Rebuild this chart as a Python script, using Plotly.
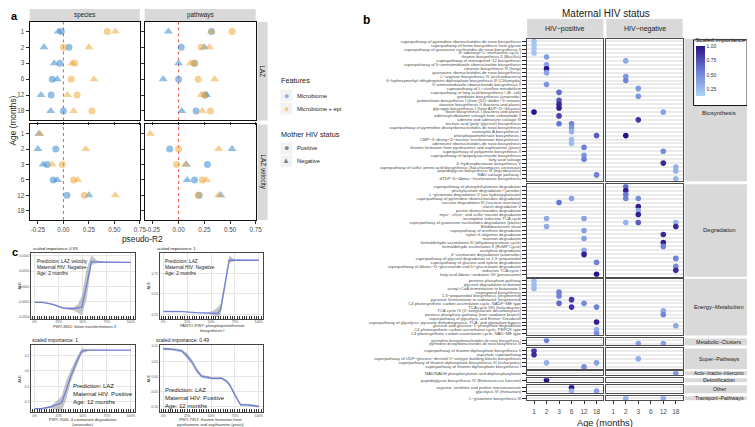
import plotly.graph_objects as go

W, H = 755, 427
def fx(p): return p / W
def fy(p): return 1 - p / H

AGES = ['1', '2', '3', '6', '12', '18']

# ---------------- panel a : pseudo-R2 per age (None = no point) ----------------
species_laz_micro_pos = [-0.02, 0.055, -0.035, -0.11, -0.12, 0.0]
species_laz_micro_neg = [-0.05, -0.19, -0.09, -0.06, -0.22, -0.125]
species_laz_epi_pos = [0.43, 0.0, 0.11, 0.077, 0.135, 0.28]
species_laz_epi_neg = [0.51, 0.25, 0.085, 0.30, 0.04, 0.10]
pathways_laz_micro_pos = [0.32, 0.025, 0.155, 0.0, 0.26, 0.17]
pathways_laz_micro_neg = [-0.10, 0.25, 0.0, -0.15, 0.27, 0.03]
pathways_laz_epi_pos = [0.52, 0.22, 0.15, 0.19, 0.25, 0.31]
pathways_laz_epi_neg = [0.32, 0.30, 0.115, 0.35, 0.22, 0.23]
species_vel_micro_pos = [None, -0.075, -0.16, -0.10, 0.035, None]
species_vel_micro_neg = [-0.24, -0.25, -0.20, -0.06, 0.25, None]
species_vel_epi_pos = [None, None, -0.01, 0.10, 0.205, None]
species_vel_epi_neg = [-0.23, 0.22, -0.11, 0.14, 0.51, None]
pathways_vel_micro_pos = [None, -0.087, 0.28, 0.155, 0.20, None]
pathways_vel_micro_neg = [None, 0.52, 0.075, 0.084, 0.41, None]
pathways_vel_epi_pos = [None, 0.0, -0.02, 0.23, 0.19, None]
pathways_vel_epi_neg = [-0.275, 0.39, 0.067, 0.27, 0.39, None]
R2_TICKS = [-0.25, 0.0, 0.25, 0.50, 0.75]
R2_TICKTEXT = ['-0.25', '0.00', '0.25', '0.50', '0.75']

# ---------------- panel c : ALE curves (x in quantile %) ----------------
c1_x = [0, 8, 18, 30, 40, 45, 49, 54, 59, 65, 75, 85, 100]
c1_ale = [-0.0052, -0.0052, -0.0058, -0.0071, -0.0073, -0.0071, -0.0068, 0.0005, 0.0082, 0.0080, 0.0079, 0.0079, 0.0079]
c1_lo = [-0.0054, -0.0054, -0.0060, -0.0074, -0.0078, -0.0086, -0.0096, -0.0040, 0.0070, 0.0077, 0.0078, 0.0078, 0.0078]
c1_hi = [-0.0050, -0.0050, -0.0056, -0.0068, -0.0068, -0.0058, -0.0030, 0.0060, 0.0102, 0.0084, 0.0080, 0.0080, 0.0080]
c2_x = [0, 10, 20, 34, 46, 52, 57, 60, 66, 69, 75, 85, 100]
c2_ale = [0.286, 0.286, 0.285, 0.272, 0.266, 0.264, 0.262, 0.31, 0.71, 0.91, 0.91, 0.91, 0.91]
c2_lo = [0.283, 0.283, 0.282, 0.269, 0.262, 0.240, 0.215, 0.25, 0.66, 0.875, 0.90, 0.905, 0.905]
c2_hi = [0.289, 0.289, 0.288, 0.275, 0.270, 0.295, 0.335, 0.38, 0.76, 0.965, 0.92, 0.915, 0.915]
c3_x = [0, 7, 16, 22, 28, 33, 37, 43, 49, 56, 70, 85, 100]
c3_ale = [-0.243, -0.243, -0.233, -0.222, -0.206, -0.12, -0.043, 0.05, 0.129, 0.135, 0.135, 0.134, 0.134]
c3_lo = [-0.247, -0.247, -0.240, -0.250, -0.262, -0.18, -0.08, 0.02, 0.112, 0.131, 0.132, 0.132, 0.132]
c3_hi = [-0.239, -0.239, -0.226, -0.200, -0.160, -0.06, 0.00, 0.08, 0.146, 0.139, 0.138, 0.136, 0.136]
c4_x = [0, 10, 19, 25, 30, 35, 40, 51, 61, 66, 70, 75, 81, 88, 100]
c4_ale = [0.092, 0.090, 0.085, 0.068, 0.048, 0.020, 0.001, -0.006, -0.006, -0.015, -0.030, -0.062, -0.094, -0.094, -0.099]
c4_lo = [0.088, 0.086, 0.080, 0.060, 0.040, 0.012, -0.004, -0.010, -0.010, -0.020, -0.036, -0.068, -0.098, -0.098, -0.103]
c4_hi = [0.096, 0.094, 0.090, 0.076, 0.056, 0.028, 0.006, -0.002, -0.002, -0.010, -0.024, -0.056, -0.090, -0.090, -0.095]

# ---------------- panel b : pathway labels and (row, age, importance) dots ----------------
bio_labels = [
    "superpathway of pyrimidine ribonucleotides de novo biosynthesis",
    "superpathway of heme biosynthesis from glycine",
    "superpathway of guanosine nucleotides de novo biosynthesis II",
    "S−adenosyl−L−methionine cycle I",
    "thiamin biosynthesis II (Bacillus)",
    "superpathway of menaquinol−12 biosynthesis",
    "superpathway of 5−aminoimidazole ribonucleotide biosynthesis",
    "stearate biosynthesis III (fungi)",
    "guanosine ribonucleotides de novo biosynthesis",
    "L−arginine biosynthesis IV (archaebacteria)",
    "6−hydroxymethyl−dihydropterin diphosphate biosynthesis III (Chlamydia)",
    "5−aminoimidazole ribonucleotide biosynthesis II",
    "superpathway of L−citrulline metabolism",
    "superpathway of fatty acid biosynthesis I (E. coli)",
    "gondoate biosynthesis (anaerobic)",
    "palmitoleate biosynthesis I (from (5Z)−dodec−5−enoate)",
    "stearate biosynthesis II (bacteria and plants)",
    "glycogen biosynthesis I (from ADP−D−Glucose)",
    "flavin biosynthesis I (bacteria and plants)",
    "adenosylcobalamin salvage from cobinamide II",
    "adenine and adenosine salvage III",
    "teichoic acid (poly−glycerol) biosynthesis",
    "superpathway of pyrimidine deoxyribonucleotides de novo biosynthesis",
    "coenzyme A biosynthesis I",
    "phosphopantothenate biosynthesis I",
    "CMP−3−deoxy−D−manno−octulosonate biosynthesis I",
    "adenosine ribonucleotides de novo biosynthesis",
    "thiamin formation from pyrithiamine and oxythiamine (yeast)",
    "superpathway of polyamine biosynthesis II",
    "superpathway of lipopolysaccharide biosynthesis",
    "fatty acid salvage",
    "4−hydroxybenzoate biosynthesis V",
    "superpathway of sulfur amino acid biosynthesis (Saccharomyces cerevisiae)",
    "peptidoglycan biosynthesis III (mycobacteria)",
    "NAD salvage pathway I",
    "dTDP−D−&amp;beta;−fucofuranose biosynthesis",
]
deg_labels = [
    "superpathway of phenylethylamine degradation",
    "phenylacetate degradation I (aerobic)",
    "L−glutamate degradation V (via hydroxyglutarate)",
    "superpathway of pyrimidine ribonucleosides degradation",
    "sucrose degradation III (sucrose invertase)",
    "starch degradation V",
    "purine ribonucleosides degradation",
    "myo−, chiro− and scillo−inositol degradation",
    "incomplete reductive TCA cycle",
    "superpathway of guanosine nucleotides degradation (plants)",
    "Bifidobacterium shunt",
    "superpathway of ornithine degradation",
    "nylon−6 oligomer degradation",
    "mannan degradation",
    "formaldehyde assimilation III (dihydroxyacetone cycle)",
    "formaldehyde assimilation II (RuMP Cycle)",
    "acetylene degradation",
    "4−coumarate degradation (anaerobic)",
    "superpathway of glycerol degradation to 1,3−propanediol",
    "superpathway of glucose and xylose degradation",
    "superpathway of &amp;beta;−D−glucuronide and D−glucuronate degradation",
    "reductive TCA cycle I",
    "fatty acid &amp;beta;−oxidation VII (peroxisome)",
]
energy_labels = [
    "pentose phosphate pathway",
    "glycerol degradation to butanol",
    "acetyl−CoA fermentation to butanoate II",
    "isopropanol biosynthesis",
    "1,3−propanediol biosynthesis (engineered)",
    "pyruvate fermentation to isobutanol (engineered)",
    "C4 photosynthetic carbon assimilation cycle, NADP−ME type",
    "TCA cycle VIII (helicobacter)",
    "TCA cycle IV (2−oxoglutarate decarboxylase)",
    "pentose phosphate pathway (non−oxidative branch)",
    "superpathway of glycolysis and Entner−Doudoroff",
    "superpathway of glycolysis, pyruvate dehydrogenase, TCA, and glyoxylate bypass",
    "glucose and glucose−1−phosphate degradation",
    "C4 photosynthetic carbon assimilation cycle, PEPCK type",
    "C4 photosynthetic carbon assimilation cycle, NAD−ME type",
]
metab_labels = ["pyrimidine deoxyribonucleotides de novo biosynthesis I",
                "pyrimidine deoxyribonucleotides de novo biosynthesis III"]
super_labels = ["superpathway of thiamin diphosphate biosynthesis II",
                "aspartate superpathway",
                "superpathway of UDP−glucose−derived O−antigen building blocks biosynthesis",
                "superpathway of thiamin diphosphate biosynthesis III (eukaryotes)",
                "superpathway of thiamin diphosphate biosynthesis I"]
activ_labels = ["NAD/NADH phosphorylation and dephosphorylation"]
detox_labels = ["peptidoglycan biosynthesis IV (Enterococcus faecium)"]
other_labels = ["arginine, ornithine and proline interconversion", "glycolysis VI (metazoan)"]
transport_labels = ["L−glutamine biosynthesis III"]

bio_pos = [(1, '1', 0.22), (2, '1', 0.2), (3, '1', 0.2), (4, '1', 0.22), (5, '2', 0.42), (7, '2', 0.4),
           (8, '2', 1.0), (9, '2', 0.38), (12, '2', 0.45), (14, '3', 0.65), (16, '3', 0.72), (17, '3', 0.9),
           (18, '3', 0.95), (20, '3', 0.8), (22, '3', 0.6), (19, '1', 1.0), (22, '6', 0.55), (23, '6', 0.45),
           (24, '6', 0.3), (26, '6', 0.25), (27, '6', 0.25), (28, '12', 0.55), (30, '12', 0.45),
           (31, '12', 0.55), (25, '18', 0.7), (35, '18', 0.55)]
bio_neg = [(6, '2', 0.35), (10, '2', 0.45), (11, '2', 0.55), (13, '3', 0.42), (15, '3', 0.45), (21, '3', 0.85),
           (25, '2', 1.0), (19, '12', 0.4), (29, '12', 0.5), (32, '12', 0.9), (33, '18', 0.3), (34, '18', 0.3),
           (36, '18', 0.28)]
deg_pos = [(4, '6', 0.4), (5, '3', 0.6), (9, '2', 0.35), (9, '12', 0.4), (11, '2', 0.35), (12, '12', 0.4),
           (14, '12', 0.4), (17, '12', 0.35), (18, '12', 0.95), (20, '18', 0.55), (23, '18', 1.0)]
deg_neg = [(1, '2', 0.65), (2, '2', 0.95), (3, '2', 0.6), (4, '2', 0.55), (4, '3', 0.5), (6, '3', 0.95),
           (7, '3', 0.35), (8, '3', 0.95), (10, '2', 0.3), (10, '3', 0.7), (10, '18', 0.3), (11, '18', 0.9),
           (13, '12', 0.9), (15, '12', 0.95), (16, '12', 0.55), (19, '18', 0.55), (21, '18', 0.5), (22, '18', 0.9)]
energy_pos = [(1, '1', 0.25), (2, '1', 0.25), (3, '1', 0.25), (4, '3', 0.55), (5, '3', 0.55), (7, '3', 0.65),
              (6, '6', 0.85), (8, '6', 0.85), (7, '12', 0.5), (8, '18', 0.55), (12, '18', 0.95), (14, '18', 0.3),
              (15, '18', 0.5)]
energy_neg = [(9, '12', 0.35), (10, '12', 0.55), (13, '18', 0.35)]
metab_pos = [(1, '2', 0.55)]
metab_neg = [(2, '3', 0.4), (2, '12', 0.4)]
super_pos = [(1, '1', 0.85), (2, '1', 0.9), (4, '2', 0.32), (4, '18', 0.4), (5, '12', 0.5)]
super_neg = [(3, '3', 0.32)]
activ_pos = []
activ_neg = [(1, '18', 0.45)]
detox_pos = [(1, '2', 1.0)]
detox_neg = []
other_pos = [(1, '6', 1.0), (2, '6', 0.3), (2, '18', 0.4)]
other_neg = []
transport_pos = []
transport_neg = [(1, '2', 0.3), (1, '12', 0.32)]

# ======================================================================
fig = go.Figure()
layout = {}
shapes = []
annotations = []
count = [0]

def new_axes(xpx, ypx, xkw, ykw):
    count[0] += 1
    n = count[0]
    s = '' if n == 1 else str(n)
    xa = dict(domain=[fx(xpx[0]), fx(xpx[1])], anchor='y' + s)
    ya = dict(domain=[fy(ypx[1]), fy(ypx[0])], anchor='x' + s)
    xa.update(xkw)
    ya.update(ykw)
    layout['xaxis' + s] = xa
    layout['yaxis' + s] = ya
    return 'x' + s, 'y' + s

def text(x, y, t, size, color='#1a1a1a', xanchor='center', yanchor='middle', angle=0, bold=False, align='center'):
    if bold:
        t = '<b>' + t + '</b>'
    annotations.append(dict(x=fx(x), y=fy(y), xref='paper', yref='paper', text=t, showarrow=False,
                            xanchor=xanchor, yanchor=yanchor, textangle=angle, align=align, borderpad=0,
                            font=dict(size=size, color=color, family='Liberation Sans, Arial')))

def rect(x0, y0, x1, y1, fill, line=None, lw=0):
    shapes.append(dict(type='rect', xref='paper', yref='paper', x0=fx(x0), x1=fx(x1), y0=fy(y1), y1=fy(y0),
                       fillcolor=fill, line=dict(width=lw, color=line or fill), layer='above'))

STRIP = '#d9d9d9'
BLUE = '#3d8bd0'
ORANGE = '#f1aa3a'

# ---------------------------- panel a ---------------------------------
panels_a = [
    ((22, 133), (13, 112), species_laz_micro_pos, species_laz_micro_neg, species_laz_epi_pos, species_laz_epi_neg, True, False),
    ((138, 250), (13, 112), pathways_laz_micro_pos, pathways_laz_micro_neg, pathways_laz_epi_pos, pathways_laz_epi_neg, False, False),
    ((22, 133), (116, 212), species_vel_micro_pos, species_vel_micro_neg, species_vel_epi_pos, species_vel_epi_neg, True, True),
    ((138, 250), (116, 212), pathways_vel_micro_pos, pathways_vel_micro_neg, pathways_vel_epi_pos, pathways_vel_epi_neg, False, True),
]
for xpx, ypx, mp, mn, ep, en, left, bottom in panels_a:
    xr, yr = new_axes(xpx, ypx,
        dict(range=[-0.33, 0.75], tickvals=R2_TICKS, ticktext=R2_TICKTEXT, showticklabels=bottom,
             ticks='outside', ticklen=3, tickcolor='#333', tickfont=dict(size=6.3, color='#4d4d4d'),
             showgrid=False, zeroline=False, showline=True, mirror=True, linecolor='#111', linewidth=1.4),
        dict(type='category', categoryarray=AGES, categoryorder='array', range=[5.6, -0.6],
             showticklabels=left, ticks='outside', ticklen=3, tickcolor='#333',
             tickfont=dict(size=6.3, color='#4d4d4d'), showgrid=False, zeroline=False,
             showline=True, mirror=True, linecolor='#111', linewidth=1.4))
    shapes.append(dict(type='line', xref=xr, yref=yr + ' domain', x0=0, x1=0, y0=0, y1=1,
                       line=dict(color='#f0554a', width=1, dash='dot'), layer='below'))
    for vals, col, sym, sz in [(mp, BLUE, 'circle', 7), (mn, BLUE, 'triangle-up', 8),
                               (ep, ORANGE, 'circle', 7), (en, ORANGE, 'triangle-up', 8)]:
        xs = [v for v in vals if v is not None]
        ys = [a for a, v in zip(AGES, vals) if v is not None]
        fig.add_trace(go.Scatter(x=xs, y=ys, xaxis=xr, yaxis=yr, mode='markers', showlegend=False,
                                 marker=dict(color=col, symbol=sym, size=sz, opacity=0.55, line=dict(width=0))))

rect(22, 0, 133, 12, STRIP); rect(138, 0, 250, 12, STRIP)
rect(252, 13, 262, 112, STRIP); rect(252, 116, 262, 212, STRIP)
text(77.5, 6.5, 'species', 6.3); text(194, 6.5, 'pathways', 6.3)
text(257, 62.5, 'LAZ', 6.3, angle=90); text(257, 164, 'LAZ velocity', 6.3, angle=90)
text(136, 231, 'pseudo-R2', 8.3)
text(6, 112, 'Age (months)', 8.3, angle=-90)
text(2, 7, 'a', 11, color='black', xanchor='left', bold=True)

# legend (panel a), drawn as text keys
text(275, 72, 'Features', 7.3, xanchor='left')
text(275, 126, 'Mother HIV status', 7.3, xanchor='left')
for ky in (87, 100, 140, 153):
    rect(275, ky - 6, 287, ky + 6, '#f2f2f2')
text(281, 87, '●', 9, color='rgba(61,139,208,0.6)')
text(281, 100, '●', 9, color='rgba(241,170,58,0.6)')
text(281, 140, '●', 9, color='rgba(85,85,85,0.7)')
text(281, 152.5, '▲', 8, color='rgba(85,85,85,0.7)')
text(291, 87, 'Microbiome', 5.8, xanchor='left')
text(291, 100, 'Microbiome + epi', 5.8, xanchor='left')
text(291, 140, 'Positive', 5.8, xanchor='left')
text(291, 153, 'Negative', 5.8, xanchor='left')

# ---------------------------- panel c ---------------------------------
panels_c = [
    ((23, 128), (245, 311), c1_x, c1_ale, c1_lo, c1_hi, [-0.0105, 0.011], [-0.01, -0.005, 0, 0.005, 0.01],
     ['-0.0100', '-0.0050', '0.0000', '0.0050', '0.0100']),
    ((153, 257), (245, 311), c2_x, c2_ale, c2_lo, c2_hi, [0.2, 1.0], [0.25, 0.5, 0.75], ['0.25', '0.50', '0.75']),
    ((23, 128), (338, 405), c3_x, c3_ale, c3_lo, c3_hi, [-0.266, 0.165], [-0.2, -0.1, 0.0, 0.1], ['-0.2', '-0.1', '0.0', '0.1']),
    ((153, 257), (338, 405), c4_x, c4_ale, c4_lo, c4_hi, [-0.118, 0.103], [-0.1, -0.05, 0, 0.05, 0.1],
     ['-0.10', '-0.05', '0.00', '0.05', '0.10']),
]
for xpx, ypx, xs, ale, lo, hi, yrng, ytv, ytt in panels_c:
    xr, yr = new_axes(xpx, ypx,
        dict(range=[-4, 104], tickvals=[0, 25, 50, 75, 100], ticktext=['0%', '25%', '50%', '75%', '100%'],
             tickfont=dict(size=3.3, color='#555'), ticks='inside', ticklen=3, tickcolor='#333', tickwidth=0.8,
             ticklabelstandoff=0,
             minor=dict(dtick=2.5, tick0=0, ticks='inside', ticklen=3, tickcolor='#333', tickwidth=0.7, showgrid=False),
             showgrid=True, gridcolor='#e6e6e6', gridwidth=0.6, zeroline=False,
             showline=True, mirror=True, linecolor='#444', linewidth=0.8),
        dict(range=yrng, tickvals=ytv, ticktext=ytt, tickfont=dict(size=3.3, color='#555'),
             showgrid=True, gridcolor='#e6e6e6', gridwidth=0.6, zeroline=False,
             showline=True, mirror=True, linecolor='#444', linewidth=0.8))
    fig.add_trace(go.Scatter(x=xs + xs[::-1], y=lo + hi[::-1], xaxis=xr, yaxis=yr, fill='toself',
                             fillcolor='rgba(140,140,140,0.5)', line=dict(width=0), mode='lines',
                             showlegend=False, hoverinfo='skip'))
    fig.add_trace(go.Scatter(x=xs, y=ale, xaxis=xr, yaxis=yr, mode='lines', showlegend=False,
                             line=dict(color='#6f80d8', width=1.3)))
    text(xpx[0] - 11, (ypx[0] + ypx[1]) / 2, 'ALE', 4, color='#333', angle=-90)

text(3, 244, 'c', 11, color='black', xanchor='left', bold=True)
text(24, 241, 'scaled importance: 0.93', 4.2, xanchor='left')
text(149, 241, 'scaled importance: 1', 4.2, xanchor='left')
text(23, 333, 'scaled importance: 1', 5, xanchor='left')
text(148, 333, 'scaled importance: 0.49', 5, xanchor='left')
text(77, 318.5, 'PWY-3841: folate transformations II', 4, color='#333')
text(206, 321, 'PANTO-PWY: phosphopantothenate<br>biosynthesis I', 4, color='#333')
text(76, 415, 'PWY-7046: 4-coumarate degradation<br>(anaerobic)', 4.1, color='#333')
text(204, 415, 'PWY-7357: thiamin formation from<br>pyrithiamine and oxythiamine (yeast)', 4.1, color='#333')
text(28, 260, 'Prediction: LAZ velocity<br>Maternal HIV: Negative<br>Age: 2 months', 4.8, xanchor='left', align='left')
text(157, 260, 'Prediction: LAZ<br>Maternal HIV: Negative<br>Age: 2 months', 4.8, xanchor='left', align='left')
text(65, 387, 'Prediction: LAZ<br>Maternal HIV: Positive<br>Age: 12 months', 6, xanchor='left', align='left')
text(157, 391, 'Prediction: LAZ<br>Maternal HIV: Positive<br>Age: 12 months', 6, xanchor='left', align='left')

# ---------------------------- panel b ---------------------------------
rows_b = [
    ('Biosynthesis', bio_labels, bio_pos, bio_neg, (30, 173)),
    ('Degradation', deg_labels, deg_pos, deg_neg, (176, 269)),
    ('Energy−Metabolism', energy_labels, energy_pos, energy_neg, (271, 328)),
    ('Metabolic−Clusters', metab_labels, metab_pos, metab_neg, (331, 338)),
    ('Super−Pathways', super_labels, super_pos, super_neg, (341, 362)),
    ('Activ−Inactiv−Interconv', activ_labels, activ_pos, activ_neg, (364, 368)),
    ('Detoxification', detox_labels, detox_pos, detox_neg, (371, 375)),
    ('Other', other_labels, other_pos, other_neg, (378, 386)),
    ('Transport−Pathways', transport_labels, transport_pos, transport_neg, (389, 393)),
]
cols_b = [(524, 601), (604, 681)]
for ri, (cat, labels, dpos, dneg, ypx) in enumerate(rows_b):
    last = ri == len(rows_b) - 1
    n = len(labels)
    lab_size = 3.7 if cat == 'Metabolic−Clusters' else 4.2
    for ci, (xpx, dots) in enumerate(zip(cols_b, [dpos, dneg])):
        xr, yr = new_axes(xpx, ypx,
            dict(type='category', categoryarray=AGES, categoryorder='array', range=[-0.55, 5.55],
                 showticklabels=last, ticks='outside' if last else '', ticklen=3, tickcolor='#333',
                 ticklabelstandoff=2,
                 tickfont=dict(size=6.5, color='#4d4d4d'), showgrid=True, gridcolor='white', gridwidth=1.2,
                 zeroline=False, showline=True, mirror=True, linecolor='#4d4d4d', linewidth=1.3),
            dict(type='category', categoryarray=labels, categoryorder='array', range=[n - 0.4, -0.6],
                 tickmode='array', tickvals=labels, ticktext=labels,
                 showticklabels=(ci == 0), ticks='outside' if ci == 0 else '', ticklen=4, tickwidth=1.2,
                 tickcolor='#222', tickfont=dict(size=lab_size, color='#4d4d4d'),
                 showgrid=True, gridcolor='#ebebeb', gridwidth=2.3, zeroline=False,
                 showline=True, mirror=True, linecolor='#4d4d4d', linewidth=1.3))
        # make sure every category exists on the axis
        fig.add_trace(go.Scatter(x=[AGES[0]] * n, y=labels, xaxis=xr, yaxis=yr, mode='markers',
                                 marker=dict(size=0.1, opacity=0), showlegend=False, hoverinfo='skip'))
        if dots:
            fig.add_trace(go.Scatter(x=[d[1] for d in dots], y=[labels[d[0] - 1] for d in dots],
                                     xaxis=xr, yaxis=yr, mode='markers', showlegend=False,
                                     marker=dict(size=5.6, color=[d[2] for d in dots], coloraxis='coloraxis',
                                                 line=dict(width=0))))
    rect(683, ypx[0], 756, ypx[1], STRIP)
    fs = {'Energy−Metabolism': 5.6, 'Activ−Inactiv−Interconv': 4.8}.get(cat, 5.3 if ri >= 3 else 6)
    if cat != 'Biosynthesis':
        text(718, (ypx[0] + ypx[1]) / 2, cat, fs)
text(718, 104, 'Biosynthesis', 6)

rect(524, 10, 601, 29, STRIP); rect(604, 10, 681, 29, STRIP)
text(562.5, 20, 'HIV−positive', 7); text(642.5, 20, 'HIV−negative', 7)
text(604, 5, 'Maternal HIV status', 10)
text(603, 416, 'Age (months)', 9.3)
text(357, 11, 'b', 12, color='black', xanchor='left', bold=True)
# colorbar legend box
rect(692, 31, 746, 97, 'white', line='#111', lw=1)

layout.update(dict(
    width=W, height=H, autosize=False, margin=dict(l=0, r=0, t=0, b=0),
    paper_bgcolor='white', plot_bgcolor='white',
    font=dict(family='Liberation Sans, Arial', color='#333'),
    shapes=shapes, annotations=annotations,
    coloraxis=dict(cmin=0.14, cmax=1.0,
                   colorscale=[[0, '#aed3f6'], [0.5, '#6c7ed6'], [1, '#2b1086']],
                   colorbar=dict(x=fx(694), xanchor='left', y=fy(26), yanchor='top', len=(87 - 26) / H,
                                 lenmode='fraction', thickness=9, thicknessmode='pixels', outlinewidth=0,
                                 tickvals=[0.25, 0.5, 0.75, 1.0], ticktext=['0.25', '0.50', '0.75', '1.00'],
                                 ticks='', tickfont=dict(size=5, color='#333'), xpad=0, ypad=0,
                                 title=dict(text='Scaled importance', side='top', font=dict(size=6, color='#111')),
                                 bgcolor='rgba(0,0,0,0)')),
    showlegend=False,
))
fig.update_layout(layout)
fig.write_html('out.html')
